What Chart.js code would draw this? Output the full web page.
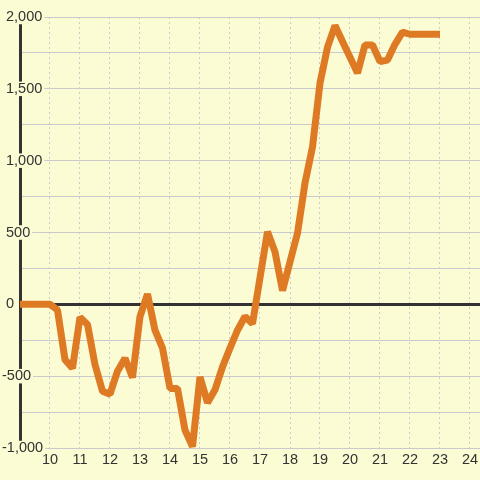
<!DOCTYPE html>
<html>
<head>
<meta charset="utf-8">
<script src="https://cdn.jsdelivr.net/npm/chart.js@4"></script>
<style>
  html, body { margin: 0; padding: 0; background: #fbfbd4; }
  #balanceChart { display: block; }
</style>
</head>
<body>
<canvas id="balanceChart" width="480" height="480"></canvas>
<script>
const hours = [
  9, 9.25, 9.5, 9.75, 10, 10.25, 10.5, 10.75, 11, 11.25, 11.5, 11.75,
  12, 12.25, 12.5, 12.75, 13, 13.25, 13.5, 13.75, 14, 14.25, 14.5, 14.75,
  15, 15.25, 15.5, 15.75, 16, 16.25, 16.5, 16.75, 17, 17.25, 17.5, 17.75,
  18, 18.25, 18.5, 18.75, 19, 19.25, 19.5, 19.75, 20, 20.25, 20.5, 20.75,
  21, 21.25, 21.5, 21.75, 22, 22.25, 22.5, 22.75, 23
];
const balance = [
  0, 0, 0, 0, 0, -40, -385, -445, -90, -140, -420, -605,
  -625, -465, -375, -510, -85, 72, -180, -305, -585, -585, -875, -990,
  -505, -685, -595, -435, -305, -180, -85, -135, 185, 505, 365, 95,
  295, 495, 845, 1095, 1540, 1790, 1940, 1830, 1720, 1610, 1805, 1805,
  1690, 1700, 1810, 1895, 1880, 1880, 1880, 1880, 1880
];
const xTicks = [10, 11, 12, 13, 14, 15, 16, 17, 18, 19, 20, 21, 22, 23, 24];
const yTickLabels = [-1000, -500, 0, 500, 1000, 1500, 2000];

const bg = "#fbfbd4";
const lineColor = "#df7a24";
const gridColor = "#cacace";
const textColor = "#333333";
const font = { family: "'Liberation Sans', Arial, sans-serif", size: 14.5, lineHeight: 1 };

const ctx = document.getElementById("balanceChart");

new Chart(ctx, {
  type: "line",
  data: {
    datasets: [
      {
        data: hours.map((h, i) => ({ x: h, y: balance[i] })),
        borderColor: lineColor,
        borderWidth: 7,
        borderJoinStyle: "bevel",
        pointRadius: 0,
        tension: 0,
        fill: false,
      },
    ],
  },
  options: {
    responsive: false,
    animation: false,
    layout: { padding: { left: 20, top: 17, right: 0, bottom: 0 } },
    plugins: {
      legend: { display: false },
      tooltip: { enabled: false },
    },
    scales: {
      x: {
        type: "linear",
        min: 9,
        max: 9 + 460 / 30,
        afterBuildTicks: (scale) => {
          scale.ticks = xTicks.map((v) => ({ value: v }));
        },
        afterFit: (scale) => {
          scale.height = 32;
          scale.paddingLeft = 0;
          scale.paddingRight = 0;
        },
        border: { display: false, dash: [2, 3] },
        grid: {
          color: gridColor,
          lineWidth: 1,
          drawTicks: false,
          z: -2,
        },
        ticks: {
          color: textColor,
          font: font,
          padding: 5,
          maxRotation: 0,
          autoSkip: false,
          callback: (value) => String(value),
        },
      },
      y: {
        min: -1000,
        max: 2000,
        afterFit: (scale) => {
          scale.width = 0;
        },
        border: { display: true, color: textColor, width: 3 },
        grid: {
          drawTicks: false,
          z: -1,
          color: (c) => (c.tick && c.tick.value === 0 ? textColor : gridColor),
          lineWidth: (c) => (c.tick && c.tick.value === 0 ? 3 : 1),
        },
        ticks: {
          stepSize: 250,
          mirror: true,
          padding: -18,
          color: textColor,
          font: font,
          showLabelBackdrop: true,
          backdropColor: bg,
          backdropPadding: { top: 0, bottom: 0, left: 0, right: 2 },
          callback: (value) => {
            if (!yTickLabels.includes(value)) return "";
            const s = value.toLocaleString("en-US");
            return value >= 0 ? " " + s : s;
          },
        },
      },
    },
  },
});
</script>
</body>
</html>
